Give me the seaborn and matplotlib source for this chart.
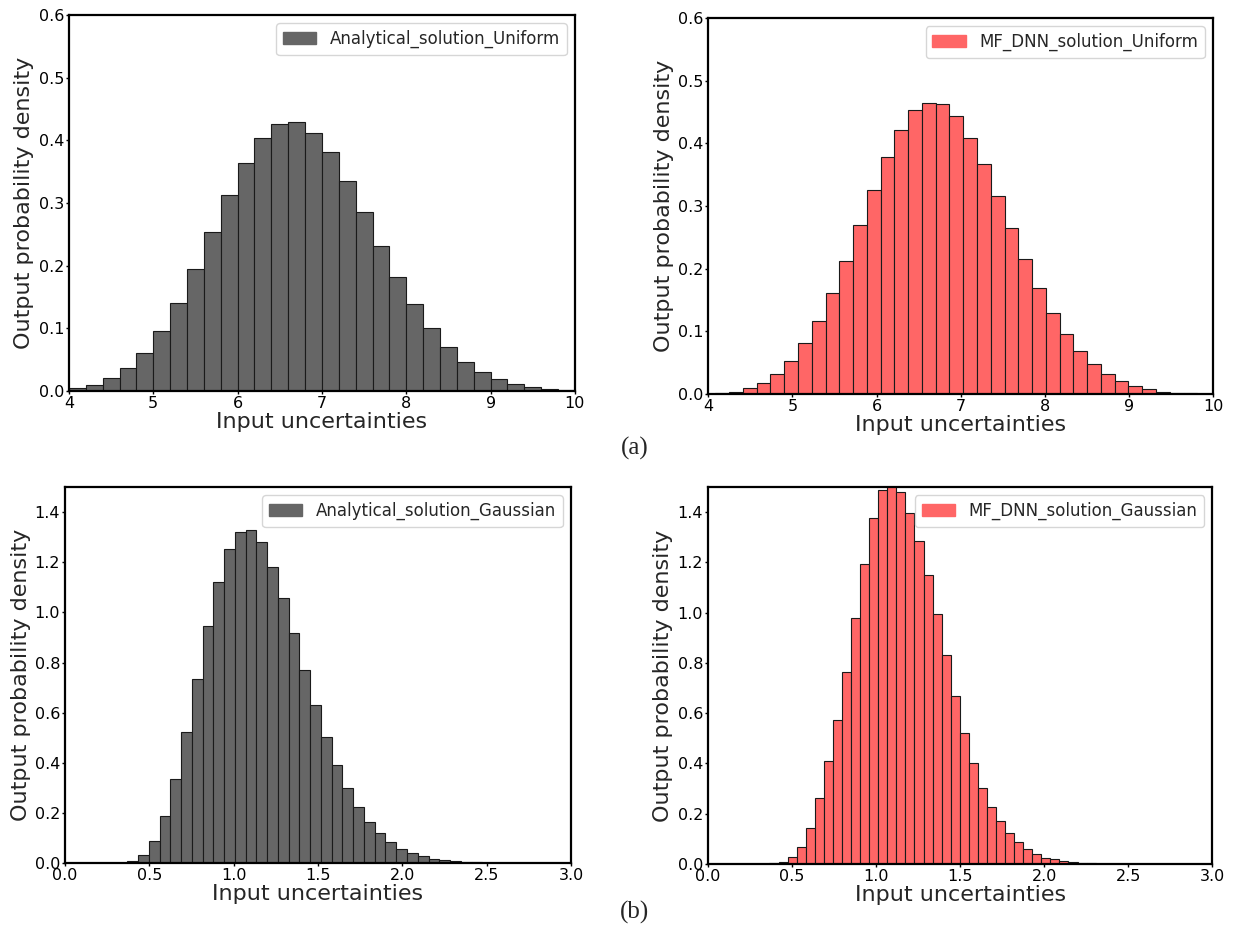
import numpy as np
import seaborn as sns
import matplotlib
matplotlib.use("Agg")
import matplotlib.pyplot as plt
import matplotlib.patches as mpatches

# ---- data (bin start, bin width, densities) ----
uni_ana_start, uni_ana_width = 4.0, 0.2
uni_ana_density = [0.004, 0.009, 0.020, 0.036, 0.061, 0.096, 0.141, 0.195, 0.254, 0.312,
                   0.364, 0.403, 0.426, 0.429, 0.411, 0.381, 0.335, 0.285, 0.231, 0.182,
                   0.138, 0.100, 0.070, 0.047, 0.030, 0.019, 0.011, 0.006, 0.003, 0.001]

uni_dnn_start, uni_dnn_width = 4.084, 0.1637
uni_dnn_density = [0.001, 0.004, 0.009, 0.018, 0.032, 0.053, 0.081, 0.117, 0.162, 0.213,
                   0.270, 0.326, 0.379, 0.422, 0.453, 0.465, 0.463, 0.444, 0.409, 0.367,
                   0.316, 0.265, 0.215, 0.169, 0.130, 0.096, 0.069, 0.048, 0.032, 0.021,
                   0.013, 0.008, 0.004, 0.002, 0.001]

gau_ana_start, gau_ana_width = 0.369, 0.0638
gau_ana_density = [0.009, 0.033, 0.089, 0.186, 0.335, 0.522, 0.735, 0.944, 1.120, 1.252,
                   1.320, 1.328, 1.280, 1.183, 1.059, 0.917, 0.769, 0.630, 0.502, 0.393,
                   0.299, 0.223, 0.165, 0.118, 0.084, 0.057, 0.040, 0.027, 0.016, 0.011,
                   0.007, 0.004, 0.003, 0.002, 0.001]

gau_dnn_start, gau_dnn_width = 0.366, 0.0539
gau_dnn_density = [0.003, 0.009, 0.027, 0.066, 0.142, 0.262, 0.408, 0.574, 0.765, 0.979,
                   1.195, 1.378, 1.489, 1.530, 1.479, 1.397, 1.286, 1.149, 0.996, 0.830,
                   0.667, 0.521, 0.401, 0.301, 0.226, 0.169, 0.122, 0.086, 0.058, 0.040,
                   0.025, 0.019, 0.012, 0.007, 0.003, 0.002]

labels = ["Analytical_solution_Uniform", "MF_DNN_solution_Uniform",
          "Analytical_solution_Gaussian", "MF_DNN_solution_Gaussian"]

gray = "#666666"
red = "#ff6666"

sns.set_style("white")
plt.rcParams["font.family"] = ["DejaVu Sans"]
plt.rcParams.update({
    "axes.linewidth": 1.6,
    "axes.edgecolor": "black",
    "xtick.major.size": 2.5,
    "ytick.major.size": 2.5,
    "xtick.major.width": 1.0,
    "ytick.major.width": 1.0,
    "xtick.bottom": True,
    "ytick.left": True,
    "xtick.labelsize": 11.5,
    "ytick.labelsize": 11.5,
    "axes.labelsize": 16,
})

fig = plt.figure(figsize=(12.34, 9.3), dpi=100)

# axes rectangles in figure fractions
rects = [
    [0.0559, 0.5796, 0.4100, 0.4043],
    [0.5740, 0.5763, 0.4090, 0.4043],
    [0.0527, 0.0720, 0.4100, 0.4043],
    [0.5737, 0.0710, 0.4087, 0.4054],
]

panels = [
    (uni_ana_start, uni_ana_width, uni_ana_density, gray),
    (uni_dnn_start, uni_dnn_width, uni_dnn_density, red),
    (gau_ana_start, gau_ana_width, gau_ana_density, gray),
    (gau_dnn_start, gau_dnn_width, gau_dnn_density, red),
]

for i, (rect, (start, width, dens, col)) in enumerate(zip(rects, panels)):
    ax = fig.add_axes(rect)
    dens = np.array(dens)
    edges = start + width * np.arange(len(dens) + 1)
    centers = (edges[:-1] + edges[1:]) / 2
    sns.histplot(x=centers, weights=dens, bins=list(edges), stat="count",
                 color=col, alpha=1, edgecolor="#1a1a1a", linewidth=0.8, ax=ax)

    if i < 2:
        ax.set_xlim(4, 10)
        ax.set_ylim(0, 0.6)
        ax.set_xticks(np.arange(4, 11, 1))
        ax.set_yticks(np.arange(0, 0.61, 0.1))
    else:
        ax.set_xlim(0, 3)
        ax.set_ylim(0, 1.5)
        ax.set_xticks(np.arange(0, 3.01, 0.5))
        ax.set_yticks(np.arange(0, 1.41, 0.2))
    ax.xaxis.set_major_formatter(matplotlib.ticker.FormatStrFormatter("%.1f" if i >= 2 else "%d"))
    ax.yaxis.set_major_formatter(matplotlib.ticker.FormatStrFormatter("%.1f"))
    ax.tick_params(axis="both", pad=1, colors="black")

    ax.set_xlabel("Input uncertainties", labelpad=1)
    ax.set_ylabel("Output probability density", labelpad=3)
    for s in ax.spines.values():
        s.set_visible(True)
        s.set_color("black")

    handles = [mpatches.Patch(color=col, label=labels[i])]
    ax.legend(handles=handles, loc="upper right", fontsize=12)

fig.text(0.514, 0.518, "(a)", family="Liberation Serif", fontsize=18,
         ha="center", va="center")
fig.text(0.514, 0.019, "(b)", family="Liberation Serif", fontsize=18,
         ha="center", va="center")

fig.savefig("out.png", dpi=100)
